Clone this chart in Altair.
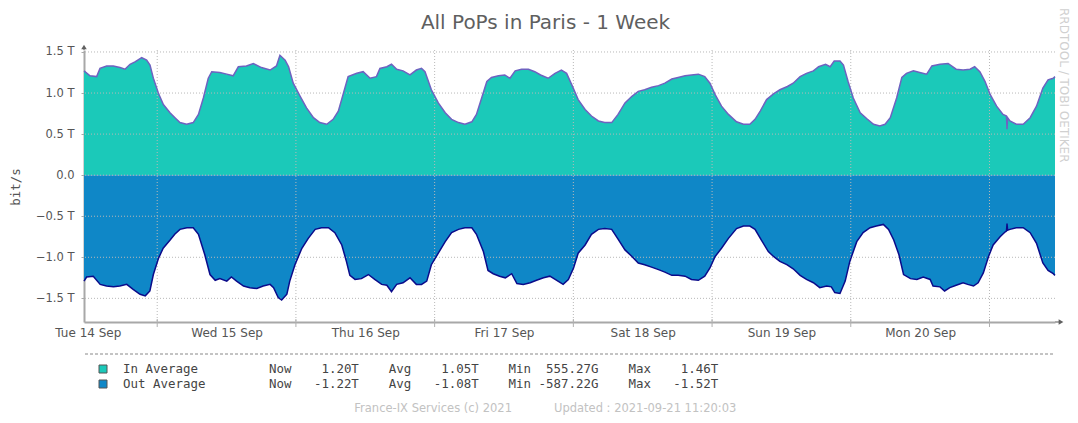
import altair as alt
import pandas as pd

# ---------------- data (values in Tbit/s, time as hours since start) ----------------
START = "2021-09-14 11:20:03"

in_hours = [0, 1.04, 2.19, 2.77, 3.92, 5.07, 6.23, 7.09, 7.96, 8.82, 9.98, 10.84, 11.42, 12.0, 12.86,
            13.73, 14.88, 15.74, 16.6, 17.76, 18.9, 19.8, 20.65, 21.5, 22.1, 23.5, 24.7, 25.8, 26.7,
            28.1, 29.3, 30.7, 32.2, 33.3, 33.9, 34.8, 35.4, 36.2, 37.4, 38.5, 39.7, 40.8, 42.0, 43.1,
            44.0, 44.9, 45.7, 47.2, 48.3, 49.5, 50.6, 51.2, 52.4, 53.2, 54.1, 55.2,
            56.4, 57.5, 58.4, 59.0, 60.1, 61.3, 62.5, 63.6, 64.8, 65.9, 67.1, 67.9, 68.8, 69.7, 70.5,
            71.7, 72.8, 73.7, 74.6, 75.7, 76.9, 78.0, 79.0, 80.3, 81.5, 82.6, 83.5, 84.4, 85.5, 86.7,
            87.8, 89.0, 90.1, 91.3, 92.4, 93.6, 94.8, 95.9, 97.0, 98.2, 99.4, 100.5, 101.7, 102.8,
            104.0, 105.1, 106.3, 107.4, 108.3, 109.2, 110.3, 111.5,
            112.9, 114.1, 115.2, 116.1, 117.0, 118.1, 119.3, 120.4, 121.7, 122.7, 123.9, 125.0, 126.2,
            127.1, 128.3, 129.1, 129.8, 130.8, 131.4, 132.2, 133.1, 134.3, 135.4, 136.6, 137.7, 138.6,
            139.5, 140.6, 141.5, 142.3, 143.5, 144.6, 145.8, 146.7, 148.1, 149.5, 150.9, 152.1, 153.3,
            154.1, 155.0, 155.9, 156.8, 157.9, 159.0, 159.6, 159.7, 159.8, 160.2, 161.3, 162.5, 163.7,
            164.8, 165.9, 166.8, 167.7, 168.0]
in_vals = [1.27, 1.21, 1.20, 1.30, 1.33, 1.33, 1.31, 1.29, 1.35, 1.38, 1.43, 1.40, 1.34, 1.18, 1.00,
           0.86, 0.76, 0.70, 0.64, 0.62, 0.64, 0.74, 0.94, 1.18, 1.26, 1.25, 1.23, 1.21, 1.32,
           1.33, 1.36, 1.31, 1.28, 1.33, 1.46, 1.40, 1.32, 1.12, 0.96, 0.82, 0.70, 0.64, 0.62, 0.68,
           0.78, 1.00, 1.20, 1.24, 1.26, 1.18, 1.20, 1.30, 1.32, 1.35, 1.29, 1.27,
           1.22, 1.28, 1.30, 1.26, 1.04, 0.88, 0.76, 0.68, 0.64, 0.62, 0.65, 0.74, 0.94, 1.14, 1.19,
           1.21, 1.22, 1.18, 1.27, 1.29, 1.29, 1.26, 1.22, 1.18, 1.24, 1.28, 1.24, 1.10, 0.92, 0.80,
           0.72, 0.66, 0.64, 0.64, 0.74, 0.88, 0.96, 1.02, 1.04, 1.07, 1.09, 1.12, 1.17, 1.19,
           1.21, 1.22, 1.23, 1.20, 1.12, 0.98, 0.84, 0.74,
           0.65, 0.62, 0.62, 0.68, 0.78, 0.92, 0.99, 1.04, 1.08, 1.12, 1.20, 1.24, 1.27,
           1.32, 1.35, 1.32, 1.39, 1.39, 1.34, 1.14, 0.94, 0.76, 0.69, 0.62, 0.60, 0.62,
           0.70, 0.94, 1.19, 1.24, 1.27, 1.25, 1.23, 1.33, 1.35, 1.36, 1.29, 1.28, 1.29,
           1.32, 1.26, 1.14, 0.98, 0.84, 0.74, 0.72, 0.56, 0.70, 0.66, 0.62, 0.62, 0.70,
           0.84, 1.06, 1.16, 1.18, 1.20]

out_hours = [0, 0.46, 1.6, 2.8, 3.9, 5.1, 6.2, 7.4, 8.5, 9.7, 10.6, 11.4, 12.0, 12.9, 13.7, 14.9, 15.7,
             16.6, 17.8, 18.9, 19.8, 20.9, 21.8, 22.7, 23.5, 24.7, 25.5, 26.4, 27.6, 28.7, 29.9, 31.0,
             32.2, 32.8, 33.6, 34.2, 35.1, 35.6, 36.5, 37.7, 38.8, 40.0, 41.1, 42.3, 43.4, 44.6, 45.4,
             46.0, 46.9, 48.0, 49.2, 50.3, 51.5, 52.4, 53.2, 54.1, 55.2,
             56.4, 57.5, 58.4, 59.3, 60.1, 61.3, 62.5, 63.6, 64.8, 65.9, 67.1, 67.9, 69.1, 69.9, 70.8,
             71.9, 72.9, 74.0, 74.9, 76.0, 77.2, 78.3, 79.5, 80.6, 81.8, 82.9, 83.8, 84.7, 85.5, 86.7,
             87.8, 89.0, 90.1, 91.3, 92.4, 93.6, 94.8, 95.9, 97.0, 98.2, 99.4, 100.5, 101.7, 102.8,
             104.0, 105.1, 106.3, 107.4, 108.3, 109.2, 110.3, 111.5,
             112.9, 114.1, 115.2, 116.1, 117.2, 118.4, 119.3, 120.4, 121.6, 122.7, 123.9, 125.0, 126.2,
             127.3, 128.5, 129.3, 129.9, 130.8, 131.7, 132.5, 133.7, 134.8, 136.0, 137.1, 138.3, 139.2,
             140.1, 141.0, 141.8, 143.0, 144.1, 145.2, 146.4, 146.9, 148.1, 148.9, 149.8, 150.9, 152.1,
             152.9, 153.9, 154.7, 155.6, 156.5, 157.3, 158.5, 159.4, 159.6, 159.7, 159.8, 160.2, 161.3,
             162.5, 163.7, 164.8, 165.9, 166.8, 167.7, 168.0]
out_vals = [-1.29, -1.24, -1.23, -1.33, -1.35, -1.36, -1.35, -1.33, -1.39, -1.45, -1.47, -1.41, -1.21,
            -1.01, -0.89, -0.79, -0.72, -0.66, -0.64, -0.64, -0.72, -0.97, -1.21, -1.28, -1.26, -1.29,
            -1.24, -1.29, -1.35, -1.37, -1.38, -1.35, -1.33, -1.37, -1.49, -1.52, -1.45, -1.29, -1.09,
            -0.89, -0.77, -0.66, -0.64, -0.64, -0.70, -0.85, -1.05, -1.22, -1.27, -1.26, -1.21, -1.27,
            -1.33, -1.34, -1.42, -1.33, -1.31,
            -1.25, -1.33, -1.33, -1.29, -1.09, -0.95, -0.81, -0.70, -0.66, -0.64, -0.64, -0.72, -0.93,
            -1.16, -1.20, -1.23, -1.25, -1.20, -1.32, -1.33, -1.31, -1.28, -1.25, -1.23, -1.28, -1.33,
            -1.27, -1.13, -0.95, -0.85, -0.72, -0.66, -0.65, -0.66, -0.78, -0.91, -0.99, -1.07, -1.09,
            -1.12, -1.15, -1.18, -1.22, -1.22, -1.23, -1.27, -1.28, -1.23, -1.13, -0.99, -0.89, -0.77,
            -0.65, -0.62, -0.62, -0.66, -0.79, -0.93, -0.99, -1.05, -1.09, -1.14, -1.22, -1.27, -1.31,
            -1.37, -1.35, -1.36, -1.43, -1.44, -1.29, -1.05, -0.81, -0.70, -0.64, -0.62, -0.60, -0.66,
            -0.79, -0.97, -1.21, -1.26, -1.27, -1.24, -1.27, -1.35, -1.36, -1.41, -1.37, -1.34, -1.31,
            -1.33, -1.35, -1.31, -1.19, -0.99, -0.85, -0.75, -0.69, -0.68, -0.59, -0.67, -0.66, -0.64,
            -0.64, -0.70, -0.83, -1.07, -1.16, -1.20, -1.22]

y_ticks = [-1.5, -1.0, -0.5, 0.0, 0.5, 1.0, 1.5]
day_labels_dates = [14, 15, 16, 17, 18, 19, 20]
midnights = ["2021-09-15", "2021-09-16", "2021-09-17", "2021-09-18", "2021-09-19", "2021-09-20", "2021-09-21"]

title_text = "All PoPs in Paris - 1 Week"
y_title = "bit/s"
legend_names = ["In Average", "Out Average"]
legend_now = ["1.20T", "-1.22T"]
legend_avg = ["1.05T", "-1.08T"]
legend_min = ["555.27G", "-587.22G"]
legend_max = ["1.46T", "-1.52T"]
footer_left = "France-IX Services (c) 2021"
footer_right = "Updated : 2021-09-21 11:20:03"
watermark = "RRDTOOL / TOBI OETIKER"

IN_FILL, IN_LINE = "#1BC9B9", "#6F62C0"
OUT_FILL, OUT_LINE = "#0F87C7", "#0B0B8A"

# ---------------- build tables ----------------
start = pd.Timestamp(START)
df_in = pd.DataFrame({"time": start + pd.to_timedelta(in_hours, unit="h"), "value": in_vals})
df_out = pd.DataFrame({"time": start + pd.to_timedelta(out_hours, unit="h"), "value": out_vals})
df_mid = pd.DataFrame({"time": pd.to_datetime(midnights)})
df_yg = pd.DataFrame({"value": y_ticks})

W, H = 971, 272
x_dom = [alt.DateTime(year=2021, month=9, date=14, hours=11, minutes=20, seconds=3),
         alt.DateTime(year=2021, month=9, date=21, hours=11, minutes=20, seconds=3)]
xscale = alt.Scale(domain=x_dom)
yscale = alt.Scale(domain=[-1.788, 1.524], nice=False, zero=False)

x_axis = alt.Axis(
    values=[alt.DateTime(year=2021, month=9, date=d, hours=12) for d in day_labels_dates],
    format="%a %d %b", title=None, grid=False, ticks=False, labelPadding=5,
    labelFont="DejaVu Sans", labelFontSize=12, labelColor="#555555",
    domainColor="#a8a8a8", domainWidth=2)
y_axis = alt.Axis(
    values=y_ticks, title=None, grid=False, tickSize=3, tickColor="#a8a8a8",
    labelExpr="datum.value == 0 ? '0.0' : format(datum.value, '.1f') + ' T'",
    labelFont="DejaVu Sans", labelFontSize=11.5, labelColor="#555555", labelPadding=7,
    domainColor="#a8a8a8", domainWidth=2)

X = alt.X("time:T", scale=xscale, axis=x_axis)
Y = alt.Y("value:Q", scale=yscale, axis=y_axis)

area_in = alt.Chart(df_in).mark_area(color=IN_FILL).encode(x=X, y=Y, y2=alt.datum(0))
area_out = alt.Chart(df_out).mark_area(color=OUT_FILL).encode(x=X, y=Y, y2=alt.datum(0))

hgrid = alt.Chart(df_yg).mark_rule(color="#b8b8b8", strokeDash=[1, 2], strokeWidth=1).encode(y=Y)
vgrid = alt.Chart(df_mid).mark_rule(color="#b8b8b8", strokeDash=[1, 2], strokeWidth=1).encode(x=X)
vticks = alt.Chart(df_mid).mark_rule(color="#b0b0b0", strokeWidth=1).encode(
    x=X, y=alt.value(H - 3), y2=alt.value(H + 5))

line_in = alt.Chart(df_in).mark_line(color=IN_LINE, strokeWidth=1.5).encode(x=X, y=Y)
line_out = alt.Chart(df_out).mark_line(color=OUT_LINE, strokeWidth=1.5).encode(x=X, y=Y)

one = pd.DataFrame({"k": [0]})

# axis extensions and arrows
x_ext = alt.Chart(one).mark_rule(color="#a8a8a8", strokeWidth=2).encode(
    x=alt.value(W), x2=alt.value(W + 6), y=alt.value(H))
x_arrow = alt.Chart(one).mark_point(shape="triangle-right", filled=True, size=30, color="#606060",
                                    opacity=1).encode(x=alt.value(W + 6), y=alt.value(H))
y_ext = alt.Chart(one).mark_rule(color="#a8a8a8", strokeWidth=2).encode(
    x=alt.value(0), y=alt.value(0), y2=alt.value(-3))
y_arrow = alt.Chart(one).mark_point(shape="triangle-up", filled=True, size=30, color="#606060",
                                    opacity=1).encode(x=alt.value(0), y=alt.value(-3))

NB = "\u00a0"

def text_layer(txt, x, y, size, color, font="DejaVu Sans", align="left", angle=0):
    d = pd.DataFrame({"t": [txt.replace(" ", NB)]})
    return alt.Chart(d).mark_text(align=align, baseline="middle", fontSize=size, color=color,
                                  font=font, angle=angle).encode(
        text="t:N", x=alt.value(x), y=alt.value(y))

title = text_layer(title_text, 461.5, -27, 20, "#5f5f5f", align="center")
ytitle = text_layer(y_title, -68, 137, 12.4, "#555555", font="DejaVu Sans Mono", align="center", angle=270)
wm = text_layer(watermark, 980, -42, 12, "#d0d0d0", align="left", angle=90)

sep = alt.Chart(one).mark_rule(color="#888888", strokeDash=[3, 2], strokeWidth=1).encode(
    x=alt.value(1), x2=alt.value(W), y=alt.value(304))

legend_layers = []
row_y = [319, 334]
for i, (nm, fill) in enumerate(zip(legend_names, [IN_FILL, OUT_FILL])):
    y = row_y[i]
    sw = alt.Chart(one).mark_rect(fill=fill, stroke="#555555", strokeWidth=1).encode(
        x=alt.value(15), x2=alt.value(23), y=alt.value(y - 4), y2=alt.value(y + 4))
    stats = (f"Now{legend_now[i]:>9}    Avg{legend_avg[i]:>9}    "
             f"Min{legend_min[i]:>9}    Max{legend_max[i]:>9}")
    legend_layers += [
        sw,
        text_layer(nm, 39, y, 12.45, "#444444", font="DejaVu Sans Mono"),
        text_layer(stats, 185, y, 12.45, "#444444", font="DejaVu Sans Mono"),
    ]

foot1 = text_layer(footer_left, 428, 359, 11.5, "#c2c2c2", align="right")
foot2 = text_layer(footer_right, 470, 359, 11.5, "#c2c2c2", align="left")

chart = alt.layer(
    area_in, area_out, hgrid, vgrid, vticks, line_in, line_out,
    x_ext, x_arrow, y_ext, y_arrow, title, ytitle, wm, sep, *legend_layers, foot1, foot2
).properties(
    width=W, height=H,
    padding={"left": 76, "top": 42, "right": 15, "bottom": 93},
    autosize=alt.AutoSizeParams(type="none"),
    background="white",
).configure_view(stroke=None)

chart.save("out.html", embed_options={"renderer": "svg", "actions": False})
